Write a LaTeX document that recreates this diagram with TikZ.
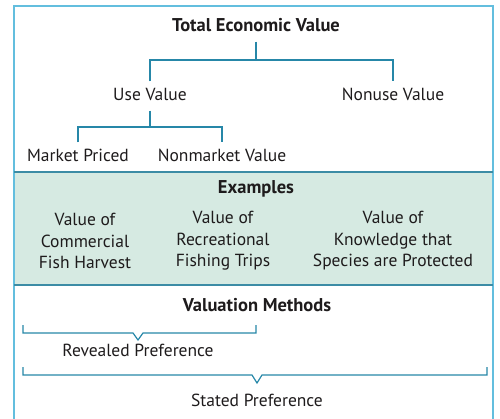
\documentclass[tikz,border=0pt]{standalone}
\usepackage{fontspec}
\setmainfont{PT Sans}
\usetikzlibrary{calc,positioning}
\definecolor{FrameCyan}{RGB}{99,190,222}
\definecolor{TreeTeal}{RGB}{38,135,168}
\definecolor{BandGreen}{RGB}{214,234,226}
\definecolor{RuleTeal}{RGB}{60,140,165}
\definecolor{InkGray}{RGB}{30,27,28}
\tikzset{
  lbl/.style={font=\fontsize{17.5}{20}\selectfont,text=InkGray,inner xsep=0pt,
    inner ysep=7pt,text height=12pt,text depth=3pt},
  head/.style={lbl,font=\fontsize{18.5}{20}\selectfont\bfseries},
  ex/.style={font=\fontsize{17.5}{21.5}\selectfont,text=InkGray,align=center,inner sep=0pt},
  tree/.style={TreeTeal,line width=1.4pt},
  bracket/.style={TreeTeal,line width=1.2pt,line join=miter}
}

\begin{document}
\begin{tikzpicture}[x=1pt,y=-1pt]
  \useasboundingbox (0,0) rectangle (500,419);
  % panels
  \fill[BandGreen] (14,172) rectangle (493,285);
  \draw[FrameCyan,line width=1.4pt] (14,419) -- (14,6) -- (493,6) -- (493,419);
  \draw[RuleTeal,line width=1.3pt] (14,172) -- (493,172);
  \draw[RuleTeal,line width=1.3pt] (14,285) -- (493,285);

  % value tree
  \node[head] (tev) at (256,27) {Total Economic Value};
  \node[lbl] (use) at (150,96) {Use Value};
  \node[lbl] (nonuse) at (393,96) {Nonuse Value};
  \node[lbl] (market) at (78,157) {Market Priced};
  \node[lbl] (nonmkt) at (222,157) {Nonmarket Value};
  \coordinate (tevj) at (256,60);
  \coordinate (usej) at (150,127);
  \draw[tree] (tev.south) -- (tevj);
  \draw[tree] (use.north) |- (tevj) -| (nonuse.north);
  \draw[tree] (use.south) -- (usej);
  \draw[tree] (market.north) |- (usej) -| (nonmkt.north);

  % examples
  \node[head] (exhd) at (256,189) {Examples};
  \node[ex] (comm) at (85,241) {Value of\\Commercial\\Fish Harvest};
  \node[ex] (recr) at (223,241) {Value of\\Recreational\\Fishing Trips};
  \node[ex] (know) at (393,241) {Value of\\Knowledge that\\Species are Protected};

  % valuation methods
  \node[head] (vmhd) at (257,307) {Valuation Methods};
  \node[lbl] (rp) at (138,352) {Revealed Preference};
  \node[lbl] (sp) at (257,402) {Stated Preference};
  \coordinate (rpL) at (23,325);
  \coordinate (rpR) at (256,325);
  \coordinate (rpTip) at (138,340);
  \coordinate (spL) at (23,367);
  \coordinate (spR) at (487,367);
  \coordinate (spTip) at (257,383);
  \draw[bracket] (rpL) |- ($(rpTip)+(-5,-7)$) -- (rpTip) -- ++(5,-7) -| (rpR);
  \draw[bracket] (spL) |- ($(spTip)+(-5,-8)$) -- (spTip) -- ++(5,-8) -| (spR);
\end{tikzpicture}
\end{document}
